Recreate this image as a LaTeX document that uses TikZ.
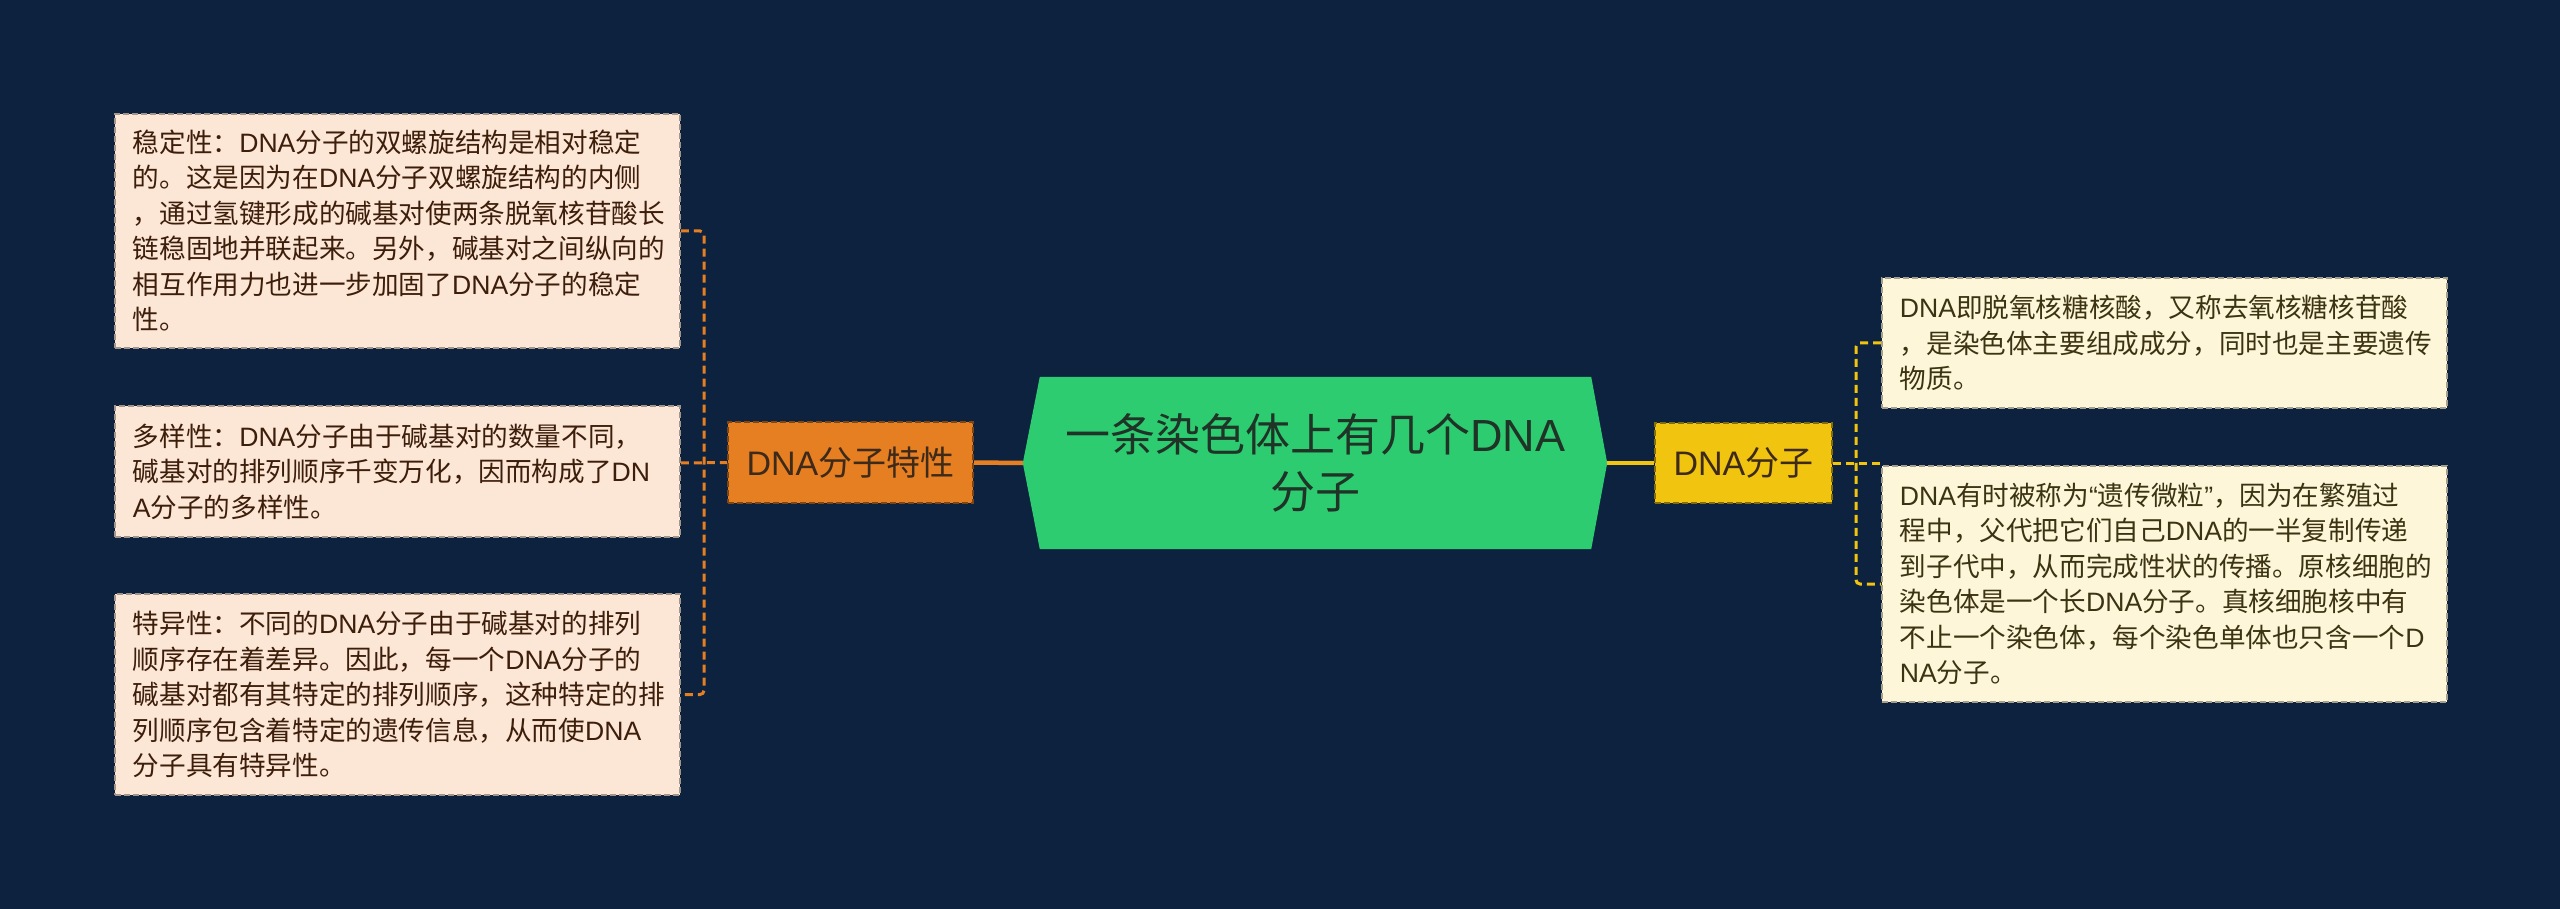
\documentclass[tikz,border=0pt]{standalone}
\usepackage{fontspec}
\setmainfont{Noto Sans CJK SC}
\newfontfamily\latf{Liberation Sans}
\newcommand\la[1]{{\latf #1}}
\usetikzlibrary{backgrounds}
\definecolor{bg}{HTML}{0D223F}
\definecolor{peachf}{HTML}{FCE6D6}
\definecolor{peacht}{HTML}{3C1E0A}
\definecolor{creamf}{HTML}{FDF6D9}
\definecolor{creamt}{HTML}{3B3311}
\definecolor{orng}{HTML}{E67E22}
\definecolor{yllw}{HTML}{F1C40F}
\definecolor{grn}{HTML}{2ECC71}
\definecolor{darkt}{HTML}{1F3327}
\definecolor{orgt}{HTML}{3D2A1A}
\tikzset{
  leafbox/.style={rectangle, dashed, dash pattern=on 6pt off 3pt, line width=1.8pt,
    minimum width=565pt, text width=529pt, inner xsep=18pt, inner ysep=0pt,
    align=left, anchor=west, font=\fontsize{26.6}{35.5}\selectfont},
  peachbox/.style={leafbox, fill=peachf, draw=peachf!65!black, text=peacht},
  creambox/.style={leafbox, fill=creamf, draw=creamf!65!black, text=creamt},
  midbox/.style={rectangle, dashed, dash pattern=on 6pt off 3pt, line width=2pt,
    inner sep=0pt, font=\fontsize{34}{40}\selectfont},
  odash/.style={draw=orng, line width=3pt, dash pattern=on 8pt off 5pt, rounded corners=4pt},
  ydash/.style={draw=yllw, line width=3pt, dash pattern=on 8pt off 5pt, rounded corners=4pt},
  osolid/.style={draw=orng, line width=4.5pt},
  ysolid/.style={draw=yllw, line width=4.5pt},
}
\begin{document}
\begin{tikzpicture}[x=1pt,y=-1pt]
\begin{scope}[on background layer]
\fill[bg] (0,0) rectangle (2560,909);
\end{scope}
\useasboundingbox (0,0) rectangle (2560,909);

% root
\node[rectangle, minimum width=551pt, minimum height=172pt, inner sep=0pt, align=center,
  text=darkt, font=\fontsize{45}{57}\selectfont] (root) at (1315.5,463)
  {一条染色体上有几个\la{DNA}\\分子};
\begin{scope}[on background layer]
\fill[grn] (root.north west) -- (root.north east) -- ([xshift=16pt]root.east)
  -- (root.south east) -- (root.south west) -- ([xshift=-17pt]root.west) -- cycle;
\end{scope}

% main branches
\node[midbox, fill=orng, draw=orng!55!black, text=orgt, minimum width=245pt, minimum height=81pt]
  (t1) at (850.5,462.5) {\la{DNA}分子特性};
\node[midbox, fill=yllw, draw=yllw!55!black, text=orgt, minimum width=177pt, minimum height=80pt]
  (t2) at (1743.5,463) {\la{DNA}分子};

% left leaves
\node[peachbox, minimum height=234pt] (b1) at (114,231)
{稳定性：\la{DNA}分子的双螺旋结构是相对稳定\\
的。这是因为在\la{DNA}分子双螺旋结构的内侧\\
，通过氢键形成的碱基对使两条脱氧核苷酸长\\
链稳固地并联起来。另外，碱基对之间纵向的\\
相互作用力也进一步加固了\la{DNA}分子的稳定\\
性。};
\node[peachbox, minimum height=131pt] (b2) at (114,471.5)
{多样性：\la{DNA}分子由于碱基对的数量不同，\\
碱基对的排列顺序千变万化，因而构成了\la{DN}\\
\la{A}分子的多样性。};
\node[peachbox, minimum height=201pt] (b3) at (114,694.5)
{特异性：不同的\la{DNA}分子由于碱基对的排列\\
顺序存在着差异。因此，每一个\la{DNA}分子的\\
碱基对都有其特定的排列顺序，这种特定的排\\
列顺序包含着特定的遗传信息，从而使\la{DNA}\\
分子具有特异性。};

% right leaves
\node[creambox, minimum height=130pt] (r1) at (1881,343)
{\la{DNA}即脱氧核糖核酸，又称去氧核糖核苷酸\\
，是染色体主要组成成分，同时也是主要遗传\\
物质。};
\node[creambox, minimum height=236pt] (r2) at (1881,584)
{\la{DNA}有时被称为\la{“}遗传微粒\la{”}，因为在繁殖过\\
程中，父代把它们自己\la{DNA}的一半复制传递\\
到子代中，从而完成性状的传播。原核细胞的\\
染色体是一个长\la{DNA}分子。真核细胞核中有\\
不止一个染色体，每个染色单体也只含一个\la{D}\\
\la{NA}分子。};

% connectors
\coordinate (jl) at (704,463);
\coordinate (jr) at (1856,463);
\draw[osolid] (t1.east) -- ([xshift=-17pt]root.west);
\draw[ysolid] ([xshift=16pt]root.east) -- (t2.west);
\draw[odash] (b1.east) -| (jl) |- (b3.east);
\draw[odash] (b2.east |- jl) -- (t1.west);
\draw[ydash] (r1.west) -| (jr) |- (r2.west);
\draw[ydash] (t2.east) -- (r1.west |- jr);
\end{tikzpicture}
\end{document}
